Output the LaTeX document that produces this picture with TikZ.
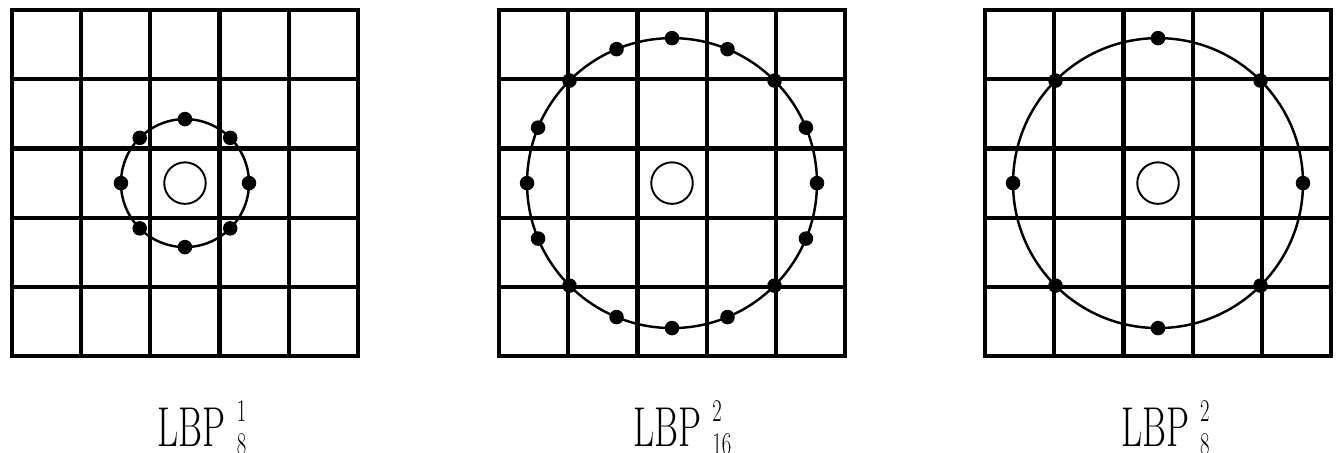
\documentclass[tikz,border=0pt]{standalone}
\newcommand{\lbpscr}[2]{LBP\kern0.3em\rlap{\raisebox{0.44em}{\fontsize{18}{18}\selectfont #1}}\raisebox{-0.14em}{\fontsize{18}{18}\selectfont #2}}
\begin{document}
\begin{tikzpicture}[x=1.384cm,y=1.384cm,line join=round,line cap=round]
\tikzset{
  gridline/.style={line width=2.4pt,line cap=rect,line join=miter},
  ring/.style={line width=1.4pt},
  centre/.style={line width=1.1pt},
  lbl/.style={inner sep=1pt,font=\fontsize{32}{38}\selectfont,xscale=0.65,transform shape}
}
\useasboundingbox (0,0) rectangle (19.335,6.546);

\def\cy{1.40}
% three panels: left edge / radius / number of samples
\foreach \xo/\rad/\np in {0.173/0.925/8, 7.211/2.095/16, 14.234/2.095/8}{
  \begin{scope}[shift={(\xo,\cy)}]
    \foreach \i in {0,...,5}{
      \draw[gridline] (\i,0) -- (\i,5);
      \draw[gridline] (0,\i) -- (5,\i);
    }
    \draw[ring] (2.5,2.5) circle (\rad);
    \draw[centre] (2.5,2.5) circle (0.3);
    \foreach \k in {1,...,\np}
      \fill[shift={(2.5,2.5)}] ({360/\np*\k}:\rad) circle (0.105);
  \end{scope}
}

\node[lbl] (lbpa) at (2.92,0.361) {\lbpscr{1}{8}};
\node[lbl] (lbpb) at (9.86,0.361) {\lbpscr{2}{16}};
\node[lbl] (lbpc) at (16.84,0.361) {\lbpscr{2}{8}};
\end{tikzpicture}
\end{document}
